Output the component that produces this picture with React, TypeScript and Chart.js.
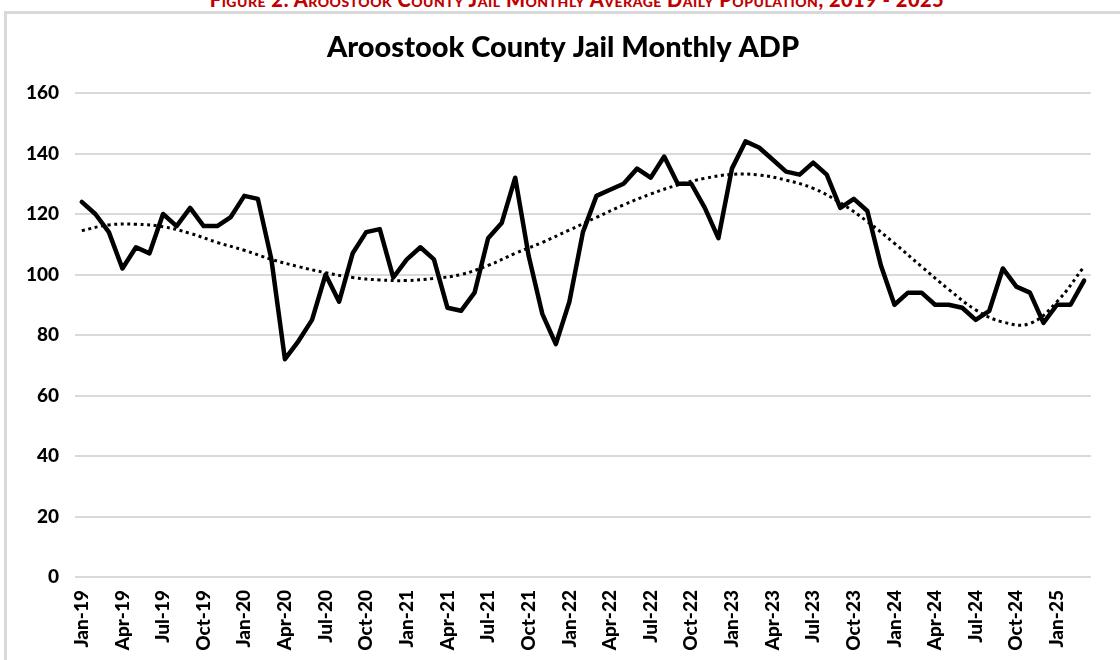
import React, { useEffect, useRef } from 'react';
import { Chart, registerables } from 'chart.js';

Chart.register(...registerables);

// ---- Data ----
const monthNames = ['Jan', 'Feb', 'Mar', 'Apr', 'May', 'Jun', 'Jul', 'Aug', 'Sep', 'Oct', 'Nov', 'Dec'];
const yearLabels = ['19', '20', '21', '22', '23', '24', '25'];
const monthCount = 75; // Jan-19 .. Mar-25

const categories: string[] = [];
yearLabels.forEach((yy) => monthNames.forEach((m) => categories.push(`${m}-${yy}`)));
categories.length = monthCount;

const adpValues = [
  124, 120, 114, 102, 109, 107, 120, 116, 122, 116, 116, 119,
  126, 125, 105, 72, 78, 85, 100, 91, 107, 114, 115, 99,
  105, 109, 105, 89, 88, 94, 112, 117, 132, 106, 87, 77,
  91, 114, 126, 128, 130, 135, 132, 139, 130, 130, 122, 112,
  135, 144, 142, 138, 134, 133, 137, 133, 122, 125, 121, 103,
  90, 94, 94, 90, 90, 89, 85, 88, 102, 96, 94, 84,
  90, 90, 98,
];

// Trendline values read at every other month (nulls are spanned)
const trendValues = [
  114.5, null, 116.4, null, 116.6, null, 115.8, null, 113.6, null, 110.6, null,
  108, null, 105, null, 102.6, null, 100.6, null, 99, null, 98.2, null,
  98, null, 98.7, null, 100, null, 103, null, 107, null, 110.6, null,
  114.7, null, 118.9, null, 123, null, 126.6, null, 129.6, null, 131.8, null,
  133.1, null, 132.9, null, 131.2, null, 128.5, null, 123.7, null, 117.5, null,
  110.3, null, 102.6, null, 95.1, null, 88.3, null, 84.3, null, 83.8, null,
  91, null, 102.6,
];

const yTicks = { min: 0, max: 160, step: 20 };
const chartTitle = 'Aroostook County Jail Monthly ADP';
const figureCaption = 'Figure 2: Aroostook County Jail Monthly Average Daily Population, 2019 - 2025';

const titlePlugin = {
  id: 'customTitle',
  afterDraw(chart: any) {
    const ctx = chart.ctx;
    ctx.save();
    ctx.fillStyle = '#000';
    ctx.font = '900 29px Lato';
    ctx.textAlign = 'center';
    ctx.textBaseline = 'alphabetic';
    ctx.fillText(chartTitle, 563, 57);
    ctx.restore();
  },
};

export default function App() {
  const canvasRef = useRef<HTMLCanvasElement | null>(null);

  useEffect(() => {
    if (!canvasRef.current) return;
    const chart = new Chart(canvasRef.current, {
      type: 'line',
      data: {
        labels: categories,
        datasets: [
          {
            label: 'ADP',
            data: adpValues,
            borderColor: '#000',
            borderWidth: 4.5,
            pointRadius: 0,
            tension: 0,
            borderJoinStyle: 'round',
            borderCapStyle: 'round',
          },
          {
            label: 'Trend',
            data: trendValues as any,
            borderColor: '#000',
            borderWidth: 3,
            borderDash: [3, 3.6],
            pointRadius: 0,
            tension: 0.4,
            spanGaps: true,
          },
        ],
      },
      options: {
        animation: false,
        responsive: false,
        layout: { padding: { left: 0, top: 93, right: 17, bottom: 0 } },
        plugins: { legend: { display: false }, tooltip: { enabled: false }, title: { display: false } },
        scales: {
          x: {
            type: 'category',
            offset: true,
            grid: { display: false, drawTicks: false },
            border: { display: false },
            ticks: {
              autoSkip: false,
              maxRotation: 90,
              minRotation: 90,
              padding: 13,
              color: '#000',
              font: { family: 'Lato', weight: 900, size: 19 },
              callback: (_v: any, i: number) => (i % 3 === 0 ? categories[i] : ''),
            },
            afterFit: (s: any) => {
              s.height = 83;
            },
          },
          y: {
            min: yTicks.min,
            max: yTicks.max,
            ticks: {
              stepSize: yTicks.step,
              padding: 16,
              color: '#000',
              font: { family: 'Lato', weight: 900, size: 19 },
            },
            grid: { color: '#d9d9d9', lineWidth: 2, drawTicks: false },
            border: { display: false },
            afterFit: (s: any) => {
              s.width = 75;
            },
          },
        },
      },
      plugins: [titlePlugin],
    });
    return () => chart.destroy();
  }, []);

  return (
    <div style={{ position: 'fixed', left: 0, top: 0, width: 1120, height: 660, background: '#fff', overflow: 'hidden' }}>
      <div
        style={{
          position: 'absolute',
          left: 17,
          width: 1120,
          top: -10,
          textAlign: 'center',
          color: '#c00000',
          fontFamily: 'Lato',
          fontWeight: 900,
          fontSize: 20,
          fontVariant: 'small-caps',
          lineHeight: '18px',
          letterSpacing: 0.5,
          whiteSpace: 'nowrap',
        }}
      >
        {figureCaption}
      </div>
      <div
        style={{
          position: 'absolute',
          left: 4,
          top: 11,
          width: 1130,
          height: 660,
          border: '3px solid #d9d9d9',
          boxSizing: 'border-box',
        }}
      />
      <canvas ref={canvasRef} width={1120} height={660} style={{ position: 'absolute', left: 0, top: 0 }} />
    </div>
  );
}
